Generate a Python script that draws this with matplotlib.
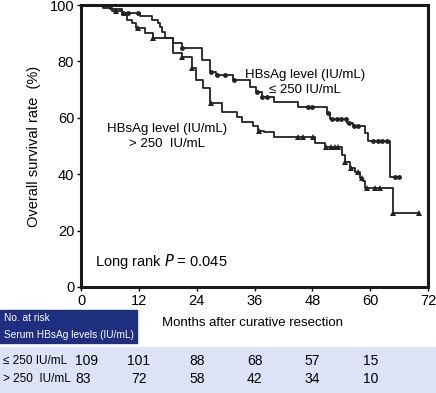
import numpy as np
import matplotlib
matplotlib.use('Agg')
import matplotlib.pyplot as plt
import matplotlib.transforms as mtransforms
from matplotlib.patches import Rectangle

plt.rcParams['font.family'] = ['Liberation Sans', 'DejaVu Sans']

# ---- data ----
# HBsAg <= 250 IU/mL (circles)
low_t = [0, 6, 8.5, 12.2, 14.7, 16, 16.4, 16.8, 17.4, 19, 21, 25, 26.8, 28, 31.5, 35,
         36.3, 37.5, 40, 45, 51, 51.7, 55.2, 56.4, 58.9, 59.5, 64.1, 66.2]
low_s = [100, 98.7, 97.3, 96.1, 94.7, 93.6, 92.2, 90.5, 88.2, 86.6, 84.9, 80.5, 76.2, 75.2,
         73.4, 70.9, 69.2, 67.4, 65.7, 63.8, 61.7, 59.6, 58.3, 57.1, 54.6, 51.8, 39, 39]
low_cens = [8.7, 9.8, 11.8, 21, 27, 28.2, 29.8, 31.8, 36.5, 37.5, 38.5, 47, 48, 51.2,
            52, 53, 54, 55, 55.5, 56.6, 57.5, 60.5, 61.5, 62.5, 63.5, 65.2, 66]

# HBsAg > 250 IU/mL (triangles)
high_t = [0, 4.5, 6.5, 8.5, 9.5, 10.5, 11.3, 13.3, 15, 19, 21, 23, 23.8, 25.3, 26.8, 29.2,
          32.3, 33.3, 35.7, 36.8, 38, 40, 48.5, 50.6, 54.1, 54.8, 55.8, 56.8, 57.9, 58.5,
          58.9, 64.7, 70]
high_s = [100, 99, 97.9, 96.5, 94.7, 93.6, 91.8, 90, 88.5, 83, 81.5, 77.6, 73.4, 70.5, 65.2,
          62, 60.3, 58.5, 57.1, 55.5, 55, 53.2, 51.1, 49.6, 46.8, 44.3, 42.2, 40.8, 38.7,
          37.6, 35.1, 26.2, 26.2]
high_cens = [7.3, 11.9, 15, 21, 23, 27, 37, 45, 46, 48.2, 50.8, 51.8, 52.6, 53.4, 54.8,
             56, 57.5, 58.3, 59.3, 61, 62, 64.7, 70]

risk_times = [0, 12, 24, 36, 48, 60]
risk_low = [109, 101, 88, 68, 57, 15]
risk_high = [83, 72, 58, 42, 34, 10]
row_labels = [u'\u2264 250 IU/mL', '> 250  IU/mL']


def surv_at(t, ts, ss):
    i = np.searchsorted(ts, t, side='right') - 1
    return ss[max(i, 0)]


fig = plt.figure(figsize=(4.36, 3.93), dpi=100, facecolor='w')
ax = fig.add_axes([0.186, 0.270, 0.796, 0.717])

lc = '#222222'
ax.step(low_t, low_s, where='post', color=lc, lw=1.3)
ax.step(high_t, high_s, where='post', color=lc, lw=1.3)
ax.plot(low_cens, [surv_at(t, low_t, low_s) for t in low_cens], 'o',
        color=lc, ms=3.5, mew=0)
ax.plot(high_cens, [surv_at(t, high_t, high_s) for t in high_cens], '^',
        color=lc, ms=4.2, mew=0)

ax.set_xlim(0, 72)
ax.set_ylim(0, 100)
ax.set_xticks(np.arange(0, 73, 12))
ax.set_yticks(np.arange(0, 101, 20))
for sp in ax.spines.values():
    sp.set_linewidth(2.2)
    sp.set_color('#1a1a1a')
ax.tick_params(direction='out', length=3, width=1, labelsize=10.5, pad=2)
ax.set_ylabel('Overall survival rate  (%)', fontsize=10.5, labelpad=6)

ax.text(46.5, 72.5, 'HBsAg level (IU/mL)\n' + u'\u2264 250 IU/mL', ha='center',
        va='center', fontsize=9.5, linespacing=1.35)
ax.text(17.8, 53.4, 'HBsAg level (IU/mL)\n> 250  IU/mL', ha='center',
        va='center', fontsize=9.5, linespacing=1.35)
ax.text(2.9, 8.9, 'Long rank $\\it{P}$ = 0.045', ha='left', va='center', fontsize=10.5)

# ---- number at risk table ----
fig.text(252 / 436, 1 - 323 / 393, 'Months after curative resection', ha='center',
         va='center', fontsize=9.5)
fig.patches.append(Rectangle((0, 1 - 343 / 393), 137 / 436, 33 / 393,
                             transform=fig.transFigure, color='#1f2f80', zorder=-1))
fig.text(4 / 436, 1 - 318 / 393, 'No. at risk', color='w', fontsize=7.3,
         ha='left', va='center')
fig.text(4 / 436, 1 - 335 / 393, 'Serum HBsAg levels (IU/mL)', color='w', fontsize=7.3,
         ha='left', va='center')
fig.patches.append(Rectangle((0, 0), 1, 1 - 347 / 393, transform=fig.transFigure,
                             color='#dde2f7', zorder=-1))

trans = mtransforms.blended_transform_factory(ax.transData, fig.transFigure)
for row, (lab, vals) in enumerate(zip(row_labels, [risk_low, risk_high])):
    yy = 1 - (361 + 18 * row) / 393
    fig.text(3 / 436, yy, lab, fontsize=8.5, ha='left', va='center')
    for t, v in zip(risk_times, vals):
        if t == 0:
            fig.text(75 / 436, yy, str(v), fontsize=10, ha='left', va='center')
        else:
            ax.text(t, yy, str(v), transform=trans, fontsize=10, ha='center',
                    va='center', clip_on=False)

fig.savefig('out.png', dpi=100, facecolor='w')
